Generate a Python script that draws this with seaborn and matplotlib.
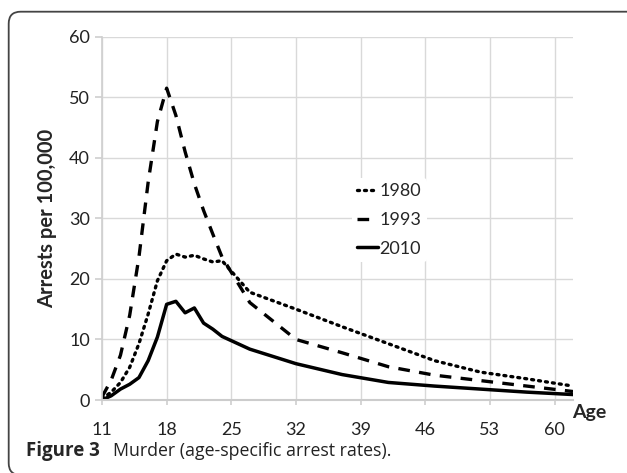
import pandas as pd
import matplotlib.pyplot as plt
import seaborn as sns
from matplotlib.patches import FancyBboxPatch

sns.set_theme(style="white")
plt.rcParams["font.family"] = ["Lato", "DejaVu Sans"]

# ages (single years to 24, then age-group midpoints)
ages = [11, 12, 13, 14, 15, 16, 17, 18, 19, 20, 21, 22, 23, 24,
        27, 32, 37, 42, 47, 52, 57, 62]
rate_1980 = [0.2, 1.3, 2.9, 5.4, 9.3, 14.2, 19.7, 23.0, 24.1, 23.6, 23.9, 23.3, 22.8, 23.0,
             17.8, 15.0, 12.1, 9.3, 6.5, 4.6, 3.5, 2.3]
rate_1993 = [0.5, 3.3, 7.4, 14.0, 23.6, 36.0, 46.0, 51.5, 47.0, 41.0, 35.7, 31.3, 27.4, 23.6,
             16.1, 10.0, 7.8, 5.5, 4.1, 3.2, 2.3, 1.4]
rate_2010 = [0.0, 0.7, 1.8, 2.6, 3.7, 6.5, 10.4, 15.8, 16.3, 14.4, 15.2, 12.7, 11.7, 10.5,
             8.4, 6.0, 4.2, 2.9, 2.3, 1.8, 1.3, 0.9]
x_ticks = [11, 18, 25, 32, 39, 46, 53, 60]
y_ticks = [0, 10, 20, 30, 40, 50, 60]

df = pd.DataFrame({"age": ages, "1980": rate_1980, "1993": rate_1993, "2010": rate_2010})

fig = plt.figure(figsize=(6.27, 4.73), dpi=100)
ax = fig.add_axes([102 / 627, 1 - 400 / 473, (573 - 102) / 627, (400 - 36.7) / 473])

sns.lineplot(data=df, x="age", y="1980", ax=ax, color="black", lw=2.4,
             linestyle=(0, (0.6, 1.5)), dash_capstyle="round", label="1980")
sns.lineplot(data=df, x="age", y="1993", ax=ax, color="black", lw=2.4,
             linestyle=(0, (3.5, 2.8)), label="1993")
sns.lineplot(data=df, x="age", y="2010", ax=ax, color="black", lw=2.5,
             linestyle="-", label="2010")

ax.set_xlim(11, 62)
ax.set_ylim(0, 60)
ax.set_xticks(x_ticks)
ax.set_yticks(y_ticks)
ax.grid(True, color="#d9d9d9", lw=1)
ax.set_axisbelow(True)
for side in ["top", "right"]:
    ax.spines[side].set_visible(False)
ax.spines["left"].set_color("#d0d0d0")
ax.spines["bottom"].set_color("#cccccc")
ax.spines["bottom"].set_linewidth(1.5)
ax.tick_params(axis="x", length=3.6, color="#d0d0d0", labelsize=13,
               labelcolor="#222222", pad=12.5, bottom=True)
ax.tick_params(axis="y", length=5, color="#d0d0d0", labelsize=13,
               labelcolor="#222222", pad=3.6, left=True)

ax.set_xlabel("")
ax.set_ylabel("Arrests per 100,000", fontsize=14.5, fontweight="bold", labelpad=9)
fig.text(572 / 627, 1 - 418 / 473, "Age", fontsize=14, fontweight="bold",
         ha="left", va="baseline")

ax.legend(loc="upper left", bbox_to_anchor=(343 / 627, 1 - 169 / 473),
          bbox_transform=fig.transFigure, fontsize=13, handlelength=1.15,
          handletextpad=0.08, labelspacing=0.7, frameon=True,
          facecolor="white", edgecolor="none", framealpha=1, borderpad=0.3)

# caption
fig.text(26 / 627, 1 - 456 / 473, "Figure 3", fontsize=13.5, fontweight="bold",
         family=["Open Sans", "DejaVu Sans"], va="baseline")
fig.text(113 / 627, 1 - 456 / 473, "Murder (age-specific arrest rates).", fontsize=12.8,
         family=["Open Sans", "DejaVu Sans"], va="baseline", color="#222222")

# rounded frame around the figure
frame = FancyBboxPatch((8.7 / 627, -2 / 473), 1.2, (473 - 11.7 + 2) / 473,
                       boxstyle="round,pad=0,rounding_size=0.019",
                       transform=fig.transFigure, fill=False, ec="#444444", lw=1.3,
                       mutation_aspect=627 / 473)
fig.patches.append(frame)

fig.savefig("out.png", dpi=100)
